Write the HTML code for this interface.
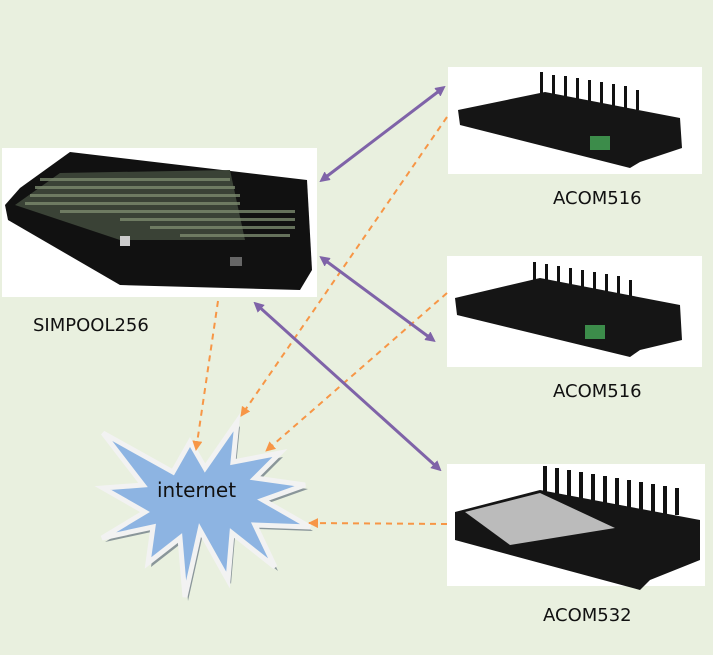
<!DOCTYPE html>
<html><head><meta charset="utf-8"><style>
html,body{margin:0;padding:0;background:#e9f0df;}
svg{display:block}
text{font-family:"DejaVu Sans","Liberation Sans",sans-serif;fill:#111}
</style></head><body>
<svg width="713" height="655" viewBox="0 0 713 655" xmlns="http://www.w3.org/2000/svg">
<defs>
<marker id="pa" markerWidth="10" markerHeight="10" refX="7" refY="5" orient="auto-start-reverse" markerUnits="userSpaceOnUse">
<path d="M0,0 L10,5 L0,10 z" fill="#7f63a8" transform="scale(1.3) translate(-2,-1.2)"/>
</marker>
<marker id="oa" markerWidth="12" markerHeight="12" refX="9" refY="5" orient="auto" markerUnits="userSpaceOnUse">
<path d="M0,0 L10,5 L0,10 z" fill="#f79646"/>
</marker>
</defs>
<rect width="713" height="655" fill="#e9f0df"/>

<!-- SIMPOOL box -->
<rect x="2" y="148" width="315" height="149" fill="#fff"/>
<polygon points="70,152 307,180 312,270 300,290 120,285 8,220 5,205 20,188" fill="#111"/>
<polygon points="60,173 230,170 245,240 120,240 15,205" fill="#3a4236"/>
<g fill="#7b8a6e" opacity="0.8">
<rect x="40" y="178" width="190" height="3"/><rect x="35" y="186" width="200" height="3"/><rect x="30" y="194" width="210" height="3"/><rect x="25" y="202" width="215" height="3"/><rect x="60" y="210" width="235" height="3"/><rect x="120" y="218" width="175" height="3"/><rect x="150" y="226" width="145" height="3"/><rect x="180" y="234" width="110" height="3"/>
</g>
<rect x="120" y="236" width="10" height="10" fill="#ccc"/>
<rect x="230" y="257" width="12" height="9" fill="#666"/>

<!-- ACOM516 top -->
<rect x="448" y="67" width="254" height="107" fill="#fff"/>
<g fill="#111">
<rect x="540" y="72" width="3" height="30"/><rect x="552" y="75" width="3" height="28"/><rect x="564" y="76" width="3" height="28"/><rect x="576" y="78" width="3" height="27"/><rect x="588" y="80" width="3" height="27"/><rect x="600" y="82" width="3" height="26"/><rect x="612" y="84" width="3" height="25"/><rect x="624" y="86" width="3" height="24"/><rect x="636" y="90" width="3" height="20"/>
</g>
<polygon points="458,110 545,92 680,118 682,148 640,162 630,168 460,125" fill="#151515"/>
<rect x="590" y="136" width="20" height="14" fill="#3c8c4a"/>

<!-- ACOM516 second -->
<rect x="447" y="256" width="255" height="111" fill="#fff"/>
<g fill="#111">
<rect x="533" y="262" width="3" height="30"/><rect x="545" y="264" width="3" height="28"/><rect x="557" y="266" width="3" height="28"/><rect x="569" y="268" width="3" height="27"/><rect x="581" y="270" width="3" height="27"/><rect x="593" y="272" width="3" height="26"/><rect x="605" y="274" width="3" height="25"/><rect x="617" y="276" width="3" height="24"/><rect x="629" y="280" width="3" height="20"/>
</g>
<polygon points="455,298 540,278 680,305 682,340 640,350 630,357 457,315" fill="#151515"/>
<rect x="585" y="325" width="20" height="14" fill="#3c8c4a"/>

<!-- ACOM532 -->
<rect x="447" y="464" width="258" height="122" fill="#fff"/>
<g fill="#111">
<rect x="543" y="466" width="4" height="40"/><rect x="555" y="468" width="4" height="38"/><rect x="567" y="470" width="4" height="36"/><rect x="579" y="472" width="4" height="35"/><rect x="591" y="474" width="4" height="34"/><rect x="603" y="476" width="4" height="33"/><rect x="615" y="478" width="4" height="32"/><rect x="627" y="480" width="4" height="31"/><rect x="639" y="482" width="4" height="30"/><rect x="651" y="484" width="4" height="29"/><rect x="663" y="486" width="4" height="28"/><rect x="675" y="488" width="4" height="27"/>
</g>
<polygon points="455,512 540,490 700,520 700,560 650,580 640,590 455,540" fill="#151515"/>
<polygon points="465,512 540,493 615,528 510,545" fill="#bbb"/>

<!-- star shadow -->
<polygon transform="translate(3,4)" fill="#8a969a" points="103,433 173,472 190,442 205,468 237,422 233,462 280,453 255,478 305,485 263,500 310,527 255,525 275,567 232,533 228,580 200,530 185,597 180,538 148,563 153,527 102,538 145,512 103,488 143,485"/>
<polygon fill="#8db4e2" stroke="#f2f2f2" stroke-width="5" stroke-linejoin="miter" points="103,433 173,472 190,442 205,468 237,422 233,462 280,453 255,478 305,485 263,500 310,527 255,525 275,567 232,533 228,580 200,530 185,597 180,538 148,563 153,527 102,538 145,512 103,488 143,485"/>
<text x="157" y="497" font-size="20">internet</text>

<!-- orange dashed -->
<g stroke="#f79646" stroke-width="2" stroke-dasharray="6,5" fill="none" marker-end="url(#oa)">
<line x1="447" y1="117" x2="241" y2="416"/>
<line x1="447" y1="293" x2="266" y2="451"/>
<line x1="218" y1="301" x2="196" y2="450"/>
<line x1="447" y1="524" x2="309" y2="523"/>
</g>

<!-- purple -->
<g stroke="#7f63a8" stroke-width="3" fill="none" marker-start="url(#pa)" marker-end="url(#pa)">
<line x1="322" y1="180" x2="443" y2="88"/>
<line x1="322" y1="258" x2="433" y2="340"/>
<line x1="256" y1="304" x2="439" y2="469"/>
</g>

<text x="33" y="331" font-size="18">SIMPOOL256</text>
<text x="553" y="204" font-size="18">ACOM516</text>
<text x="553" y="397" font-size="18">ACOM516</text>
<text x="543" y="621" font-size="18">ACOM532</text>
</svg>
</body></html>
